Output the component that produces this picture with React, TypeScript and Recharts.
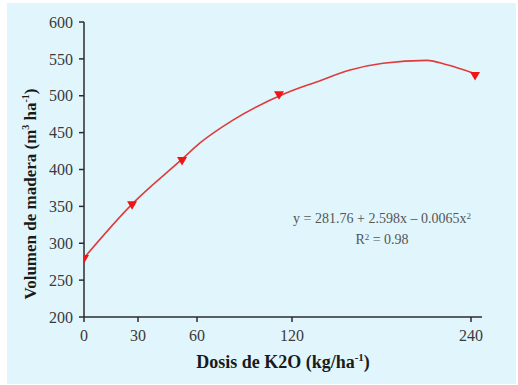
import { ComposedChart, Line, Scatter, XAxis, YAxis } from "recharts"

// uneven x axis, as drawn in the source figure
const xTickDoses = [0, 30, 60, 120, 240]
const xTickLabels = ["0", "30", "60", "120", "240"]
const xTickPos = [0, 54, 113, 208, 387]

const yTicks = [200, 250, 300, 350, 400, 450, 500, 550, 600]

// observed means
const markerDoses = [0, 26.7, 52.4, 111.8, 242.7]
const markerValues = [278, 351, 411, 500, 526]

// fitted curve
const curveDoses = [0, 26.7, 52.4, 61.9, 82.7, 115.6, 136.8, 158.9, 181, 210.5, 223.9, 241.3]
const curveValues = [280, 353, 414, 436, 467, 503, 519, 535, 544, 548, 542, 531]

function doseToPos(d: number): number {
  const n = xTickDoses.length
  let i = 0
  while (i < n - 2 && d > xTickDoses[i + 1]) i++
  const d0 = xTickDoses[i]
  const d1 = xTickDoses[i + 1]
  const p0 = xTickPos[i]
  const p1 = xTickPos[i + 1]
  return p0 + ((d - d0) / (d1 - d0)) * (p1 - p0)
}

const markers = markerDoses.map((d, i) => ({ x: doseToPos(d), y: markerValues[i] }))
const curve = curveDoses.map((d, i) => ({ x: doseToPos(d), y: curveValues[i] }))

const serif = "'Liberation Serif', 'Times New Roman', serif"
const axisColor = "#2b2b2b"
const tickText = { fontSize: 16, fill: "#3a3a3a", fontFamily: serif, style: { fontFamily: serif } }

function Triangle(props: any) {
  const { cx, cy } = props
  if (cx == null || cy == null) return null
  return (
    <path
      d={`M${cx - 5},${cy - 4.5} L${cx + 5},${cy - 4.5} L${cx},${cy + 4} Z`}
      fill="#f01414"
    />
  )
}

function XTitle() {
  return (
    <text x={283} y={368} textAnchor="middle" fontFamily={serif} fontWeight="bold" fontSize={18} fill="#1a1a1a">
      Dosis de K2O (kg/ha
      <tspan fontSize={11} dy={-7}>-1</tspan>
      <tspan dy={7}>)</tspan>
    </text>
  )
}

function YTitle() {
  return (
    <text
      x={0}
      y={0}
      transform="translate(36,194) rotate(-90)"
      textAnchor="middle"
      fontFamily={serif}
      fontWeight="bold"
      fontSize={17}
      fill="#1a1a1a"
    >
      Volumen de madera (m
      <tspan fontSize={10} dy={-7}>3</tspan>
      <tspan dy={7}> ha</tspan>
      <tspan fontSize={10} dy={-7}>-1</tspan>
      <tspan dy={7}>)</tspan>
    </text>
  )
}

export default function App() {
  return (
    <div style={{ position: "absolute", left: 0, top: 0, width: 518, height: 385, background: "#fff", fontFamily: serif }}>
      <div style={{ position: "absolute", left: 7, top: 3, width: 509, height: 381, background: "#e1f6fc" }} />
      <div style={{ position: "absolute", left: 0, top: 0 }}>
        <ComposedChart width={518} height={385} margin={{ top: 22, right: 36, bottom: 38, left: 0 }}>
          <XAxis
            dataKey="x"
            type="number"
            domain={[0, 398]}
            ticks={xTickPos}
            tickFormatter={(v) => xTickLabels[xTickPos.indexOf(v)] ?? ""}
            allowDataOverflow
            height={30}
            stroke={axisColor}
            strokeWidth={1.5}
            tickSize={5}
            tickMargin={8}
            tick={tickText}
            label={{ content: () => <XTitle /> }}
          />
          <YAxis
            type="number"
            dataKey="y"
            domain={[200, 600]}
            ticks={yTicks}
            width={84}
            stroke={axisColor}
            strokeWidth={1.5}
            tickSize={5}
            tickMargin={6}
            tick={tickText}
            label={{ content: () => <YTitle /> }}
          />
          <Line
            data={curve}
            dataKey="y"
            type="monotone"
            stroke="#e03a3a"
            strokeWidth={1.6}
            dot={false}
            activeDot={false}
            isAnimationActive={false}
          />
          <Scatter data={markers} dataKey="y" shape={<Triangle />} isAnimationActive={false} />
        </ComposedChart>
      </div>
      <div
        style={{
          position: "absolute",
          left: 272,
          top: 207,
          width: 220,
          textAlign: "center",
          fontFamily: serif,
          fontSize: 14,
          lineHeight: "18px",
          color: "#555",
        }}
      >
        <div>
          y = 281.76 + 2.598x – 0.0065x<sup style={{ fontSize: 9, verticalAlign: "4px" }}>2</sup>
        </div>
        <div>
          R<sup style={{ fontSize: 9, verticalAlign: "4px" }}>2</sup> = 0.98
        </div>
      </div>
    </div>
  )
}
